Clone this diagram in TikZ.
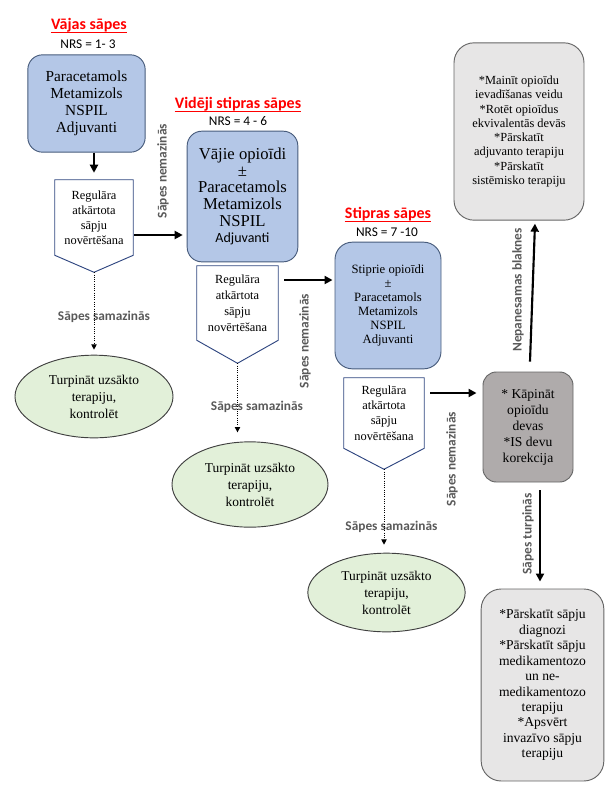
\documentclass[tikz,border=0pt]{standalone}
\usepackage{fontspec}
\setmainfont{Liberation Serif}
\newfontfamily\calibri{Carlito}
\usetikzlibrary{positioning,calc,arrows.meta,shapes.geometric}

\definecolor{boxblue}{RGB}{180,199,231}
\definecolor{blueedge}{RGB}{72,92,124}
\definecolor{pentedge}{RGB}{47,70,128}
\definecolor{ovalgreen}{RGB}{226,240,217}
\definecolor{lightgrey}{RGB}{231,230,230}
\definecolor{darkgrey}{RGB}{175,171,171}
\definecolor{labelgrey}{RGB}{89,89,89}
\definecolor{titlered}{RGB}{255,0,0}

\tikzset{
    drug/.style={draw=blueedge, fill=boxblue, line width=0.7pt, rounded corners=11pt, align=center, inner sep=0pt},
    pent/.style={draw=pentedge, line width=0.7pt},
    penttext/.style={align=center, inner sep=0pt},
    oval/.style={ellipse, draw=black!75, fill=ovalgreen, line width=0.7pt, align=center, inner sep=0pt},
    advice/.style={draw=black!60, fill=lightgrey, line width=0.7pt, rounded corners=15pt, align=center, inner sep=0pt},
    headline/.style={text=titlered, inner sep=0pt, font=\calibri\bfseries\fontsize{12}{14}\selectfont},
    uline/.style={draw=titlered, line width=0.9pt},
    nrs/.style={font=\calibri\fontsize{10}{12}\selectfont},
    lbl/.style={text=labelgrey, font=\calibri\bfseries\fontsize{10}{12}\selectfont},
    flow/.style={-{Triangle[length=6pt,width=6pt]}, line width=1.6pt},
    drop/.style={-{Triangle[length=4pt,width=4pt]}, densely dotted, line width=0.7pt},
}

\begin{document}
\begin{tikzpicture}[x=0.75pt,y=-0.75pt]
    \useasboundingbox (0,0) rectangle (616,794);

    % weak pain
    \node[headline] (t1) at (89,25) {Vājas sāpes};
    \draw[uline] ($(t1.base west)+(0,3)$) -- ($(t1.base east)+(0,3)$); % underline
    \node[nrs] (n1) at (88,44) {NRS = 1- 3};
    \node[drug, minimum width=88pt, minimum height=73pt, font=\fontsize{11.5}{12.75}\selectfont] (b1) at (86.5,103.5) {Paracetamols\\Metamizols\\NSPIL\\Adjuvanti};
    \node[penttext, minimum width=58.5pt, minimum height=56.25pt, font=\fontsize{9.3}{11.25}\selectfont] (p1) at (94,217.5) {Regulāra\\atkārtota\\sāpju\\novērtēšana};
    \draw[pent] (p1.north west) -- (p1.north east) -- (p1.south east) -- ($(p1.south)+(0,17)$) coordinate (p1tip) -- (p1.south west) -- cycle; % pentagon outline
    \node[oval, minimum width=118.5pt, minimum height=62pt, font=\fontsize{10.1}{12.75}\selectfont] (e1) at (94,396.5) {Turpināt uzsākto\\terapiju,\\kontrolēt};
    \node[lbl] (s1) at (104,317) {Sāpes samazinās};
    \node[lbl, rotate=90] (r1) at (163,171) {Sāpes nemazinās};

    % moderate pain
    \node[headline] (t2) at (238,104) {Vidēji stipras sāpes};
    \draw[uline] ($(t2.base west)+(0,3)$) -- ($(t2.base east)+(0,3)$); % underline
    \node[nrs] (n2) at (238,121) {NRS = 4 - 6};
    \node[drug, minimum width=83pt, minimum height=98pt, font=\fontsize{12.5}{12.5}\selectfont] (b2) at (242.5,196.5) {Vājie opioīdi\\±\\Paracetamols\\Metamizols\\NSPIL\\{\calibri\fontsize{10.5}{12.5}\selectfont Adjuvanti}};
    \node[penttext, minimum width=60.75pt, minimum height=55.5pt, font=\fontsize{9.3}{12}\selectfont] (p2) at (237.5,303) {Regulāra\\atkārtota\\sāpju\\novērtēšana};
    \draw[pent] (p2.north west) -- (p2.north east) -- (p2.south east) -- ($(p2.south)+(0,23)$) coordinate (p2tip) -- (p2.south west) -- cycle; % pentagon outline
    \node[oval, minimum width=117pt, minimum height=64pt, font=\fontsize{10.1}{12.75}\selectfont] (e2) at (250,484.5) {Turpināt uzsākto\\terapiju,\\kontrolēt};
    \node[lbl] (s2) at (257,407) {Sāpes samazinās};
    \node[lbl, rotate=90] (r2) at (305,341) {Sāpes nemazinās};

    % strong pain
    \node[headline] (t3) at (388,214) {Stipras sāpes};
    \draw[uline] ($(t3.base west)+(0,3)$) -- ($(t3.base east)+(0,3)$); % underline
    \node[nrs] (n3) at (387,232) {NRS = 7 -10};
    \node[drug, rounded corners=13pt, minimum width=79.5pt, minimum height=95pt, font=\fontsize{9.5}{10.5}\selectfont] (b3) at (388,305.5) {Stiprie opioīdi\\±\\Paracetamols\\Metamizols\\NSPIL\\Adjuvanti};
    \node[penttext, minimum width=60pt, minimum height=52.5pt, font=\fontsize{9.3}{11.5}\selectfont] (p3) at (384,413) {Regulāra\\atkārtota\\sāpju\\novērtēšana};
    \draw[pent] (p3.north west) -- (p3.north east) -- (p3.south east) -- ($(p3.south)+(0,21)$) coordinate (p3tip) -- (p3.south west) -- cycle; % pentagon outline
    \node[oval, minimum width=118pt, minimum height=59pt, font=\fontsize{10.1}{12.75}\selectfont] (e3) at (386.5,592.5) {Turpināt uzsākto\\terapiju,\\kontrolēt};
    \node[lbl] (s3) at (391.5,527) {Sāpes samazinās};
    \node[lbl, rotate=90] (r3) at (452,459) {Sāpes nemazinās};

    % escalation
    \node[advice, rounded corners=10pt, fill=darkgrey, minimum width=67.5pt, minimum height=82.5pt, font=\fontsize{10.2}{12}\selectfont] (k) at (528,427) {* Kāpināt\\opioīdu\\devas\\*IS devu\\korekcija};
    \node[advice, minimum width=97.5pt, minimum height=133pt, font=\fontsize{9.3}{10.7}\selectfont] (g1) at (519,131.5) {*Mainīt opioīdu\\ievadīšanas veidu\\*Rotēt opioīdus\\ekvivalentās devās\\*Pārskatīt\\adjuvanto terapiju\\*Pārskatīt\\sistēmisko terapiju};
    \node[advice, minimum width=92pt, minimum height=144pt, font=\fontsize{10.2}{11.6}\selectfont] (g2) at (542.5,685) {*Pārskatīt sāpju\\diagnozi\\*Pārskatīt sāpju\\medikamentozo\\un ne-\\medikamentozo\\terapiju\\*Apsvērt\\invazīvo sāpju\\terapiju};
    \node[lbl, rotate=90] (r4) at (518,290) {Nepanesamas blaknes};
    \node[lbl, rotate=90] (r5) at (528,534) {Sāpes turpinās};

    % connectors
    \draw[flow] (b1.south -| p1.north) -- ($(p1.north)+(0,-7)$);
    \draw[flow] ($(p1.east)+(1,17.5)$) -- ($(p1.east -| b2.west)+(-4,17.5)$);
    \draw[flow] ($(p2.east)+(6,-23)$) -- ($(p2.east -| b3.west)+(-2,-23)$);
    \draw[flow] ($(p3.east)+(6,-20)$) -- ($(p3.east -| k.west)+(-6,-20)$);
    \draw[flow] ($(k.north)+(2,-10)$) -- ($(g1.south)+(16,3)$);
    \draw[flow] ($(k.south)+(12,8)$) -- ($(k.south |- g2.north)+(12,-7)$);
    \draw[drop] (p1tip) -- ($(p1tip |- e1.north)+(0,-5)$);
    \draw[drop] (p2tip) -- ($(p2tip |- e2.north)+(0,-9)$);
    \draw[drop] (p3tip) -- ($(p3tip |- e3.north)+(0,-8)$);
\end{tikzpicture}
\end{document}
